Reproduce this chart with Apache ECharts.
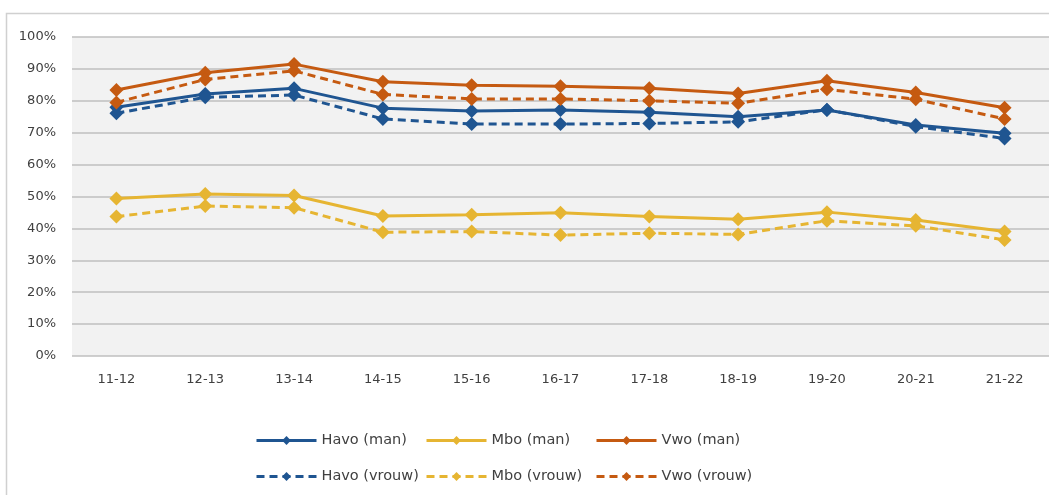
<!DOCTYPE html>
<html><head><meta charset="utf-8">
<script src="https://cdn.jsdelivr.net/npm/echarts@6/dist/echarts.min.js"></script>
<style>html,body{margin:0;padding:0;background:#fff}#c{width:1049px;height:495px}</style>
</head><body><div id="c"></div>
<script>
const categories = ['11-12','12-13','13-14','14-15','15-16','16-17','17-18','18-19','19-20','20-21','21-22'];
const yTicks = [0,10,20,30,40,50,60,70,80,90,100];
const havoMan   = [78.0,82.1,83.9,77.7,76.8,77.1,76.4,75.0,77.1,72.4,69.8];
const mboMan    = [49.4,50.8,50.3,43.9,44.3,44.9,43.7,42.9,45.1,42.6,39.0];
const vwoMan    = [83.4,88.8,91.5,86.0,84.9,84.6,83.9,82.3,86.3,82.6,77.8];
const havoVrouw = [76.1,81.1,81.8,74.3,72.7,72.7,72.9,73.4,77.2,71.9,68.2];
const mboVrouw  = [43.7,47.0,46.5,38.8,39.0,37.9,38.5,38.1,42.4,40.8,36.4];
const vwoVrouw  = [79.5,86.7,89.4,82.0,80.6,80.6,80.0,79.2,83.6,80.5,74.3];

const C_HAVO = '#1f5591', C_MBO = '#e6b532', C_VWO = '#c55a11';
const font = 'DejaVu Sans';
function s(name, data, color, dashed) {
  return {
    name, type: 'line', data, symbol: 'diamond', symbolSize: 14,
    itemStyle: { color },
    lineStyle: { color, width: 3, type: dashed ? [8, 5] : 'solid' },
    emphasis: { disabled: true }, animation: false
  };
}
const names = [['Havo (man)','Mbo (man)','Vwo (man)'],['Havo (vrouw)','Mbo (vrouw)','Vwo (vrouw)']];
const legends = [];
names.forEach((row, r) => row.forEach((n, c) => legends.push({
  data: [{ name: n }], left: 250 + c * 170, top: 428 + r * 36,
  itemWidth: 60, itemHeight: 11, itemGap: 0,
  lineStyle: { width: 3 },
  textStyle: { fontFamily: font, fontSize: 14.5, color: '#404040' },
  selectedMode: false
})));
const chart = echarts.init(document.getElementById('c'));
chart.setOption({
  animation: false,
  graphic: [{ type: 'rect', shape: { x: 6.5, y: 13.5, width: 1100, height: 500 }, style: { fill: 'none', stroke: '#d0d0d0', lineWidth: 1.5 }, z: -10 }],
  grid: { left: 72, right: -3, top: 37, bottom: 139, show: true, backgroundColor: '#f2f2f2', borderWidth: 0 },
  xAxis: {
    type: 'category', data: categories, boundaryGap: true,
    axisLine: { show: false }, axisTick: { show: false },
    axisLabel: { fontFamily: font, fontSize: 13, color: '#404040', margin: 17 }
  },
  yAxis: {
    type: 'value', min: 0, max: 100, interval: 10,
    axisLabel: { fontFamily: font, fontSize: 13, color: '#404040', margin: 16, formatter: v => v + '%' },
    splitLine: { lineStyle: { color: '#bfbfbf', width: 1.5 } },
    axisLine: { show: false }, axisTick: { show: false }
  },
  legend: legends,
  series: [
    s('Havo (man)', havoMan, C_HAVO, false),
    s('Mbo (man)', mboMan, C_MBO, false),
    s('Vwo (man)', vwoMan, C_VWO, false),
    s('Havo (vrouw)', havoVrouw, C_HAVO, true),
    s('Mbo (vrouw)', mboVrouw, C_MBO, true),
    s('Vwo (vrouw)', vwoVrouw, C_VWO, true)
  ]
});
</script></body></html>
